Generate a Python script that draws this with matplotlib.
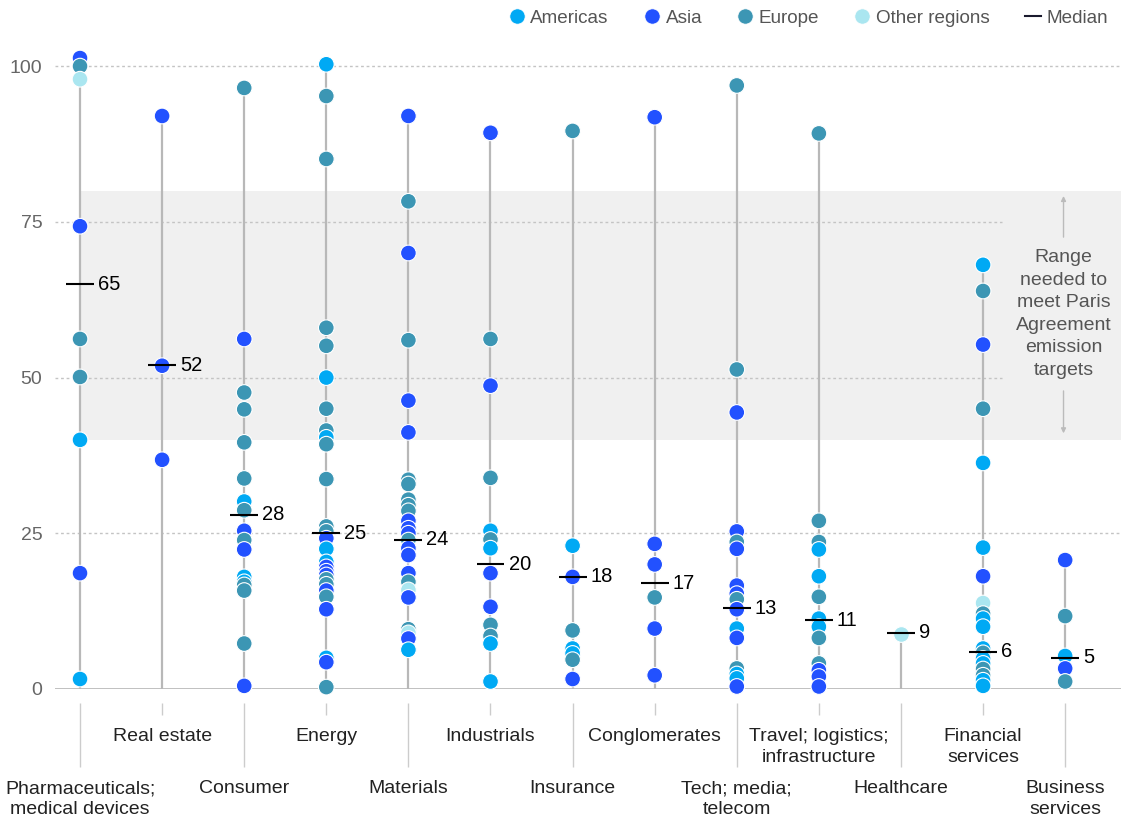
import matplotlib
matplotlib.use("Agg")
import matplotlib.pyplot as plt
from matplotlib.lines import Line2D

plt.rcParams['font.family'] = ['Liberation Sans', 'DejaVu Sans']

# ---------------- Data ----------------
categories = ["Pharmaceuticals;\nmedical devices", "Real estate", "Consumer", "Energy",
              "Materials", "Industrials", "Insurance", "Conglomerates",
              "Tech; media;\ntelecom", "Travel; logistics;\ninfrastructure", "Healthcare",
              "Financial\nservices", "Business\nservices"]
medians = [65, 52, 28, 25, 24, 20, 18, 17, 13, 11, 9, 6, 5]

# region codes: A = Americas, S = Asia, E = Europe, O = Other regions
values = [
    [101.3, 100, 97.9, 74.3, 56.2, 50.1, 40, 18.6, 1.6],
    [92, 51.9, 36.8],
    [96.5, 56.2, 47.6, 44.9, 39.6, 33.8, 30.1, 28.7, 25.4, 23.9, 22.4, 18.0, 17.2, 16.7, 15.8, 7.3, 0.5],
    [100.3, 95.2, 85.1, 58.0, 55.1, 50.0, 45.0, 41.5, 40.4, 39.3, 33.7, 26.1, 25.3, 24.2, 22.5,
     20.4, 19.6, 18.9, 18.3, 17.6, 16.8, 15.8, 14.8, 12.8, 5.0, 4.3, 0.3],
    [92.0, 78.3, 70.0, 56.0, 46.3, 41.2, 33.6, 32.9, 30.4, 29.5, 28.6, 27.0, 25.8, 25.0, 23.9,
     22.6, 21.5, 18.6, 17.2, 15.9, 14.7, 9.6, 9.0, 8.1, 6.3],
    [89.3, 56.2, 48.7, 33.9, 25.4, 24.0, 22.6, 18.6, 13.2, 10.3, 8.5, 7.3, 1.2],
    [89.6, 23.0, 18.0, 9.4, 6.5, 5.7, 4.7, 1.6],
    [91.8, 23.3, 20.0, 14.7, 9.7, 2.2],
    [96.9, 51.3, 44.4, 25.3, 23.6, 22.5, 16.6, 15.3, 14.4, 12.8, 9.7, 8.2, 3.3, 2.4, 1.7, 0.4],
    [89.2, 27.0, 23.6, 22.4, 18.1, 14.8, 11.3, 10.0, 8.2, 4.1, 3.0, 2.0, 0.4],
    [8.8],
    [68.1, 63.9, 55.3, 45.0, 36.3, 22.7, 18.1, 13.8, 12.1, 11.3, 10.0, 6.5, 5.8, 4.9, 4.1, 3.2, 2.2, 1.4, 0.5],
    [20.7, 11.7, 5.3, 3.3, 1.2],
]
regions = [
    "SEOSEEASA",
    "SSS",
    "ESEEEEAESESAAEEES",
    "AEEEEAEEAEEEESAASSSEESESASE",
    "SESESSEEEEESSSESSSEOSEOSA",
    "SESEAEASSEEAA",
    "EASEAAES",
    "SSSESS",
    "EESSESSSESASEAAS",
    "EEEAAEAAEESSS",
    "O",
    "AESEAASOEAAAEAAEEAA",
    "SEASE",
]

colors = {"A": "#00A9F4", "S": "#2251FF", "E": "#3C96B4", "O": "#AAE6F0"}
legend_names = {"A": "Americas", "S": "Asia", "E": "Europe", "O": "Other regions"}

band_low, band_high = 40, 80

# ---------------- Figure ----------------
fig = plt.figure(figsize=(11.29, 8.21), dpi=100)
ax = fig.add_axes([0.0487, 0.1608, 0.9442, 0.7905])
ax.set_xlim(-0.305, 12.68)
ax.set_ylim(0, 104.2)

n = len(categories)

# band for Paris Agreement range
ax.fill_between([0, 12.68], band_low, band_high, color="#F0F0F0", zorder=0, lw=0)

# gridlines (50/75 stop before annotation)
for gy in [25, 50, 75, 100]:
    xr = 11.23 if gy in (50, 75) else 12.68
    ax.hlines(gy, -0.305, xr, colors="#C4C4C4", linestyles=(0, (2, 2)), lw=1, zorder=1)
ax.axhline(0, color="#BBBBBB", lw=1.3, zorder=1)

for i in range(n):
    vals = values[i]
    regs = regions[i]
    ax.vlines(i, 0, max(vals), colors="#B8B8B8", lw=1.6, zorder=2)
    order = sorted(range(len(vals)), key=lambda k: -vals[k])
    ax.scatter([i] * len(vals), [vals[k] for k in order],
               c=[colors[regs[k]] for k in order], s=128,
               edgecolors="white", linewidths=0.8, zorder=3, clip_on=False)
    ax.hlines(medians[i], i - 0.17, i + 0.17, colors="black", lw=1.5, zorder=4)
    ax.text(i + 0.22, medians[i], str(medians[i]), fontsize=14.5, va="center",
            ha="left", color="black", zorder=5)

# x labels on two alternating rows
tr = ax.get_xaxis_transform()
for i, lab in enumerate(categories):
    if i % 2 == 0:
        ax.vlines(i, -0.0216, -0.1202, colors="#CCCCCC", lw=1, transform=tr, clip_on=False)
        ax.text(i, -0.1405, lab, transform=tr, ha="center", va="top", fontsize=14,
                color="#222222", linespacing=1.32)
    else:
        ax.vlines(i, -0.0216, -0.0401, colors="#CCCCCC", lw=1, transform=tr, clip_on=False)
        ax.text(i, -0.0605, lab, transform=tr, ha="center", va="top", fontsize=14,
                color="#222222", linespacing=1.32)

# y axis
ax.set_yticks([0, 25, 50, 75, 100])
ax.tick_params(axis="y", length=0, pad=9, labelsize=14, labelcolor="#666666")
ax.set_xticks([])
for s in ax.spines.values():
    s.set_visible(False)

# annotation
ax.text(11.98, 60.2, "Range\nneeded to\nmeet Paris\nAgreement\nemission\ntargets",
        ha="center", va="center", fontsize=14, color="#555555", linespacing=1.42)
ax.annotate("", xy=(11.98, 79.6), xytext=(11.98, 72.1),
            arrowprops=dict(arrowstyle="-|>", color="#BBBBBB", lw=1, mutation_scale=7))
ax.annotate("", xy=(11.98, 40.6), xytext=(11.98, 48.3),
            arrowprops=dict(arrowstyle="-|>", color="#BBBBBB", lw=1, mutation_scale=7))

# legend
handles = [Line2D([], [], marker="o", ls="", markersize=11, markerfacecolor=colors[k],
                  markeredgecolor="white", markeredgewidth=0.5) for k in "ASEO"]
handles.append(Line2D([], [], color="#1a1a2e", lw=1.5))
labels = [legend_names[k] for k in "ASEO"] + ["Median"]
fig.legend(handles, labels, loc="center right", bbox_to_anchor=(1125 / 1129, 1 - 18 / 821),
           ncol=5, frameon=False, fontsize=13.6, handlelength=0.85, handletextpad=0.3,
           columnspacing=1.85, labelcolor="#555555")

fig.savefig("out.png", dpi=100)
